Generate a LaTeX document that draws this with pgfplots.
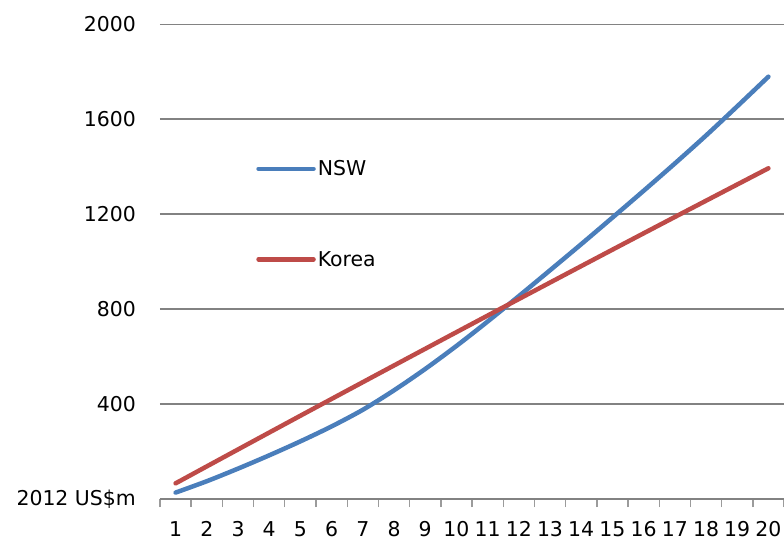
\documentclass[border=0pt]{standalone}
\usepackage{pgfplots}
\pgfplotsset{compat=1.18}
\usepackage{fontspec}
\setmainfont{DejaVu Sans}
\definecolor{nswblue}{HTML}{4A7EBB}
\definecolor{korred}{HTML}{BE4B48}
\definecolor{gridgray}{HTML}{828282}
\begin{document}
\begin{tikzpicture}
\begin{axis}[
  at={(0,0)}, anchor=south west,
  scale only axis, width=624bp, height=474.5bp,
  xmin=0.5, xmax=20.5, ymin=0, ymax=2000,
  xtick={1,...,20},
  xticklabels={1,2,3,4,5,6,7,8,9,10,11,12,13,14,15,16,17,18,19,20},
  minor xtick={0.5,1.5,...,20.5},
  ytick={0,400,...,2000},
  yticklabels={2012 US\$m,400,800,1200,1600,2000},
  /pgf/number format/assume math mode=true,
  major tick length=0pt,
  minor tick length=8bp,
  tick align=outside,
  minor tick style={gridgray!80, line width=1.4bp},
  axis x line*=bottom, axis y line*=left,
  y axis line style={draw=none},
  x axis line style={gridgray, line width=2.8bp, -},
  ymajorgrids, major grid style={gridgray, line width=1.9bp},
  ticklabel style={font=\fontsize{20.5}{24}\selectfont, inner sep=0pt},
  yticklabel style={anchor=east, xshift=-24bp},
  xticklabel style={anchor=north, yshift=-22bp},
  legend style={draw=none, fill=none, at={(0.154,0.6006)}, anchor=west,
    font=\fontsize{20.5}{24}\selectfont, row sep=70bp, inner sep=0pt},
  legend cell align=left,
  legend image code/.code={\draw[#1] (0bp,0bp) -- (55bp,0bp);},
  clip=false,
]
\addplot[nswblue, line width=4.5bp, line cap=round, smooth, tension=0.5] coordinates {
(1,27) (2,75) (3,128) (4,184) (5,243) (6,306) (7,376) (8,458) (9,548) (10,645)
(11,748) (12,855) (13,964) (14,1074) (15,1186) (16,1299) (17,1414) (18,1532) (19,1655) (20,1780)};
\addlegendentry{NSW}
\addplot[korred, line width=4.5bp, line cap=round, smooth, tension=0.5] coordinates {
(1,66) (2,137.5) (3,208.8) (4,280) (5,351) (6,421.8) (7,492.4) (8,562.8) (9,633) (10,703.1)
(11,773) (12,842.7) (13,912.2) (14,981.6) (15,1050.8) (16,1119.8) (17,1188.6) (18,1257.2) (19,1325.6) (20,1393.9)};
\addlegendentry{Korea}
\end{axis}
\pgfresetboundingbox
\path[use as bounding box] (-160bp,-43bp) rectangle (624bp,499bp);
\end{tikzpicture}
\end{document}
